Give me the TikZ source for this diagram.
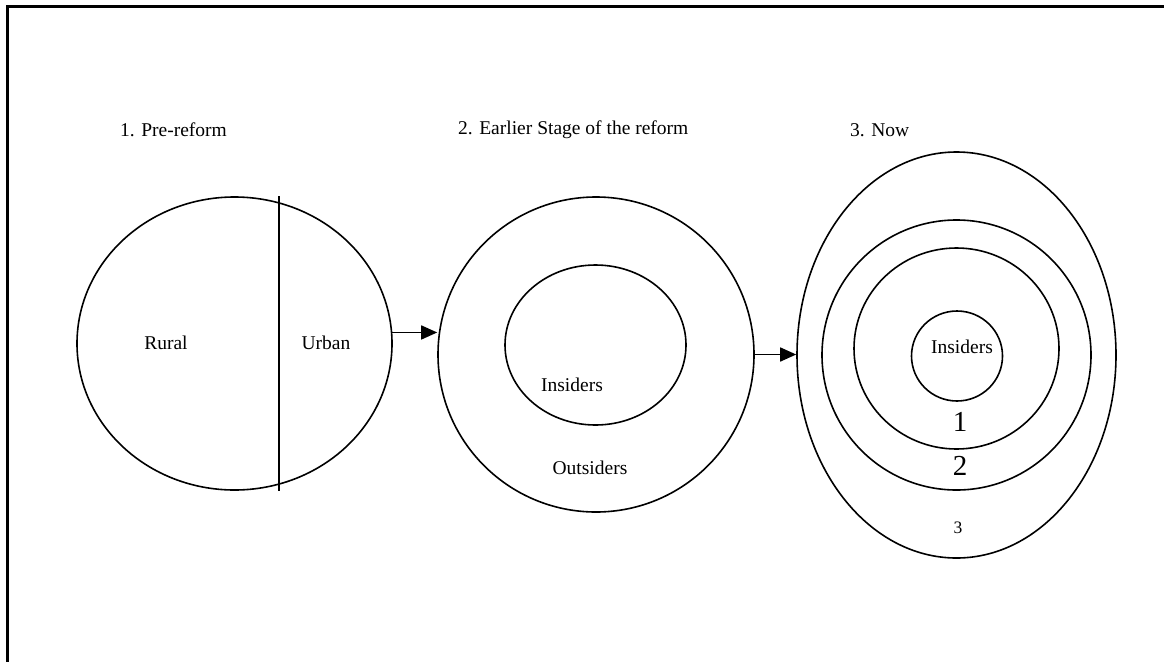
\documentclass[tikz,border=0pt]{standalone}
\usepackage{fontspec}
\setmainfont{Liberation Serif}
\usetikzlibrary{shapes.geometric,arrows.meta,calc}
\tikzset{
  oval/.style={draw, ellipse, line width=1.6pt, inner sep=0pt},
  arr/.style={line width=1.6pt, -{Triangle[length=16pt,width=14pt]}},
  lbl/.style={font=\fontsize{19.5}{22}\selectfont, inner sep=0pt},
  big/.style={font=\fontsize{29}{32}\selectfont, inner sep=0pt},
  small/.style={font=\fontsize{17.5}{20}\selectfont, inner sep=0pt},
  frame/.style={line width=3pt}
}
\begin{document}
\begin{tikzpicture}[x=1pt,y=-1pt]
\useasboundingbox (0,0) rectangle (1164,662);
% frame (top and left edges)
\coordinate (fTL) at (7.5,6.5);
\coordinate (fTR) at (1164,6.5);
\coordinate (fBL) at (7.5,662);
\draw[frame] (fTR) -- (fTL) -- (fBL);
% titles
\node[lbl, anchor=west] (t1) at (120,130) {1. Pre-reform};
\node[lbl, anchor=west] (t2) at (458,130) {2. Earlier Stage of the reform};
\node[lbl, anchor=west] (t3) at (850,130) {3. Now};
% stage 1
\node[oval, minimum width=315, minimum height=293] (c1) at (234.5,343.5) {};
\coordinate (vx) at (279,343.5);
\draw[line width=1.6pt] (vx |- c1.north) -- (vx |- c1.south);
\node[lbl] (rural) at (166,343) {Rural};
\node[lbl] (urban) at (326,343) {Urban};
% stage 2
\node[oval, minimum width=316, minimum height=315] (c2) at (596,354.5) {};
\node[oval, minimum width=181, minimum height=160] (c2i) at (595.5,345) {};
\node[lbl] (ins2) at (572,385) {Insiders};
\node[lbl] (out2) at (590,468) {Outsiders};
% stage 3
\node[oval, minimum width=319, minimum height=406] (c3) at (956.5,355) {};
\node[oval, minimum width=269, minimum height=270] (c3b) at (956.5,355) {};
\node[oval, minimum width=205, minimum height=201] (c3a) at (956.5,348.5) {};
\node[oval, minimum width=91, minimum height=90] (c3i) at (957,356) {};
\node[lbl] (ins3) at (962,347) {Insiders};
\node[big] (n1) at (960,422) {1};
\node[big] (n2) at (960,466) {2};
\node[small] (n3) at (958,528) {3};
% arrows
\draw[arr] (c1.4) -- (c1.4 -| c2.west);
\draw[arr] (c2.east) -- (c2.east -| c3.west);
\end{tikzpicture}
\end{document}
